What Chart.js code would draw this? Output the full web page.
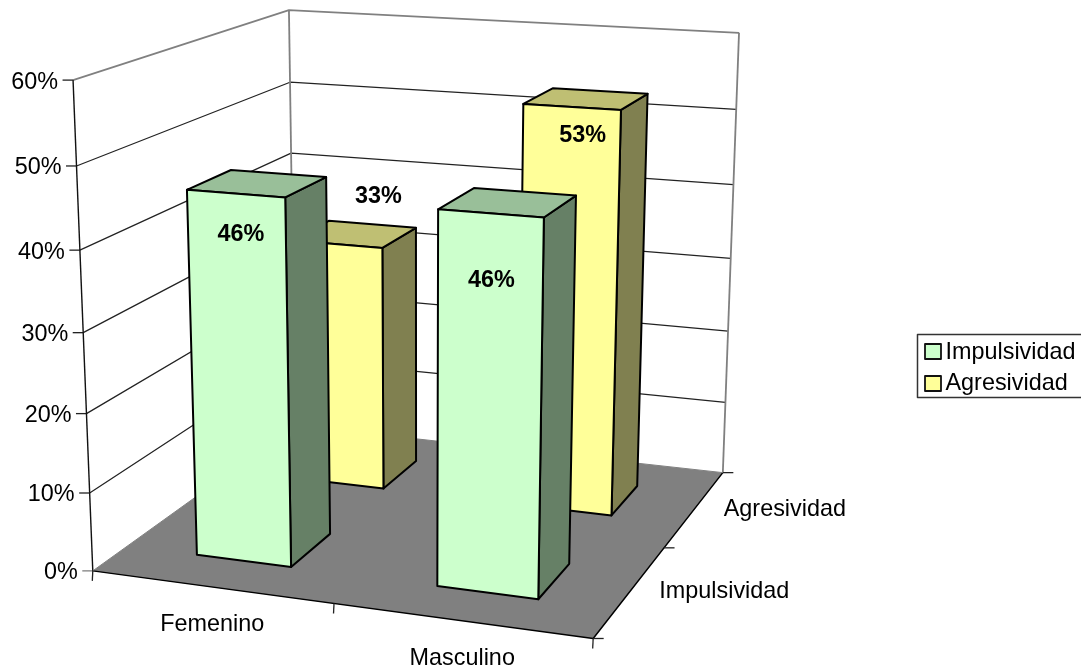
<!DOCTYPE html>
<html><head><meta charset="utf-8">
<style>html,body{margin:0;padding:0;background:#fff}canvas{display:block}</style>
<script src="https://cdn.jsdelivr.net/npm/chart.js@4"></script>
</head><body><canvas id="c" width="1081" height="668"></canvas>
<script>
// ---- data ----
const categories = ['Femenino', 'Masculino'];
const seriesNames = ['Impulsividad', 'Agresividad'];
const impulsividad = [46, 46];
const agresividad = [33, 53];
const axisMax = 60;
const axisStep = 10;

// ---- styles ----
const frontColors = ['#CCFFCC', '#FFFF99'];
const topColors = ['#99BF99', '#BFBF73'];
const sideColors = ['#668066', '#808050'];
const FONT = '"Liberation Sans", Arial, sans-serif';
// pixel nudges of value labels from the centre of each bar's top [dataset][category]
const labelNudge = [[[-16, 50], [-16, 77]], [[24, -39], [-3, 36]]];

// camera calibration: unit cube corner -> page pixel (u: categories, d: series, v: value)
const cameraAnchors = [
  [0,0,0, 93,570.5],[1,0,0, 593,639],[0,1,0, 295,426],[1,1,0, 723,472],
  [0,0,1, 73,80],[0,1,1, 289,10],[1,1,1, 739,33]
];
function solveCamera(rows) {
  const A = [], b = [];
  rows.forEach(([X,Y,Z,x,y]) => {
    A.push([X,Y,Z,1,0,0,0,0,-x*X,-x*Y,-x*Z]); b.push(x);
    A.push([0,0,0,0,X,Y,Z,1,-y*X,-y*Y,-y*Z]); b.push(y);
  });
  const n = 11, M = [];
  for (let i = 0; i < n; i++) {
    const r = [];
    for (let j = 0; j < n; j++) r.push(A.reduce((s, a) => s + a[i]*a[j], 0));
    r.push(A.reduce((s, a, k) => s + a[i]*b[k], 0));
    M.push(r);
  }
  for (let i = 0; i < n; i++) {
    let p = i;
    for (let k = i+1; k < n; k++) if (Math.abs(M[k][i]) > Math.abs(M[p][i])) p = k;
    [M[i], M[p]] = [M[p], M[i]];
    for (let k = 0; k < n; k++) if (k !== i) {
      const f = M[k][i] / M[i][i];
      for (let j = i; j <= n; j++) M[k][j] -= f * M[i][j];
    }
  }
  return M.map((r, i) => r[n] / r[i]);
}
const cam = solveCamera(cameraAnchors);
function P(u, d, v) {
  const w = cam[8]*u + cam[9]*d + cam[10]*v + 1;
  return [(cam[0]*u + cam[1]*d + cam[2]*v + cam[3]) / w,
          (cam[4]*u + cam[5]*d + cam[6]*v + cam[7]) / w];
}
function poly(ctx, pts, fill, stroke, lw) {
  ctx.beginPath();
  pts.forEach((p, i) => i ? ctx.lineTo(p[0], p[1]) : ctx.moveTo(p[0], p[1]));
  if (fill) { ctx.closePath(); ctx.fillStyle = fill; ctx.fill(); }
  if (stroke) { ctx.strokeStyle = stroke; ctx.lineWidth = lw; ctx.lineJoin = 'round'; ctx.stroke(); }
}
function text(ctx, s, x, y, align, bold) {
  ctx.font = (bold ? 'bold ' : '') + '23.4px ' + FONT;
  ctx.fillStyle = '#000'; ctx.textAlign = align; ctx.textBaseline = 'middle';
  ctx.fillText(s, x, y + 1);
}
// normalised geometry of one bar, read from the library's own element and scales
function barBox(chart, di, i) {
  const bar = chart.getDatasetMeta(di).data[i];
  const xs = chart.scales.x, ys = chart.scales.y, ds = chart.scales.depth;
  const u0 = (bar.x - bar.width/2 - xs.left) / xs.width;
  const u1 = (bar.x + bar.width/2 - xs.left) / xs.width;
  const half = bar.width / xs.width / 2;
  const dc = (ds.getPixelForValue(di) - ds.left) / ds.width;
  const v = (ys.bottom - bar.y) / ys.height;
  return {u0, u1, d0: dc - half, d1: dc + half, v};
}

class Bar3DController extends Chart.BarController {
  draw() {
    const chart = this.chart, ctx = chart.ctx, di = this.index, S = 2;
    this._cachedMeta.data.forEach((_, i) => {
      const b = barBox(chart, di, i);
      poly(ctx, [P(b.u1,b.d0,0),P(b.u1,b.d1,0),P(b.u1,b.d1,b.v),P(b.u1,b.d0,b.v)], sideColors[di], '#000', S);
      poly(ctx, [P(b.u0,b.d0,b.v),P(b.u1,b.d0,b.v),P(b.u1,b.d1,b.v),P(b.u0,b.d1,b.v)], topColors[di], '#000', S);
      poly(ctx, [P(b.u0,b.d0,0),P(b.u1,b.d0,0),P(b.u1,b.d0,b.v),P(b.u0,b.d0,b.v)], frontColors[di], '#000', S);
    });
  }
}
Bar3DController.id = 'bar3d';
Bar3DController.defaults = Chart.BarController.defaults;
Bar3DController.overrides = Chart.BarController.overrides;
Chart.register(Bar3DController);

const box3D = {
  id: 'box3D',
  beforeDatasetsDraw(chart) {
    const ctx = chart.ctx, ys = chart.scales.y, ds = chart.scales.depth, xs = chart.scales.x;
    const GRAY = '#808080', DARK = '#222';
    // floor
    poly(ctx, [P(0,0,0),P(1,0,0),P(1,1,0),P(0,1,0)], '#808080');
    poly(ctx, [P(0,0,0),P(1,0,0),P(1,1,0)], null, '#000', 1.5);
    poly(ctx, [P(1,1,0),P(0,1,0),P(0,0,0)], null, GRAY, 1);
    // gridlines and value axis
    ys.ticks.forEach(t => {
      const v = (ys.bottom - ys.getPixelForValue(t.value)) / ys.height;
      const isTop = t.value === ys.max;
      if (t.value > 0) poly(ctx, [P(0,0,v),P(0,1,v),P(1,1,v)], null, isTop ? GRAY : DARK, isTop ? 1.8 : 1.25);
      const a = P(0,0,v);
      poly(ctx, [[a[0]-10.5,a[1]],a], null, t.value === 0 ? GRAY : DARK, 1.3);
      text(ctx, t.label, a[0]-15, a[1]+1, 'right');
    });
    poly(ctx, [P(0,1,0),P(0,1,1)], null, GRAY, 1.8);
    poly(ctx, [P(1,1,0),P(1,1,1)], null, GRAY, 1.8);
    poly(ctx, [P(0,0,0),P(0,0,1)], null, '#111', 1.4);
    // category axis
    categories.forEach((c, i) => {
      const m = P((xs.getPixelForValue(i) - xs.left) / xs.width, 0, 0);
      text(ctx, c, m[0]+1, m[1]+37, 'center');
    });
    for (let i = 0; i <= categories.length; i++) {
      const a = P(i / categories.length, 0, 0);
      poly(ctx, [a, [a[0]-0.5, a[1]+10]], null, i === 1 ? DARK : '#222', 1.3);
    }
    // series (depth) axis
    seriesNames.forEach((s, i) => {
      const m = P(1, (ds.getPixelForValue(i) - ds.left) / ds.width, 0);
      text(ctx, s, m[0]+29, m[1], 'left');
    });
    for (let i = 0; i <= seriesNames.length; i++) {
      const a = P(1, i / seriesNames.length, 0);
      poly(ctx, [a, [a[0]+10.5, a[1]]], null, '#222', 1.3);
    }
  },
  afterDatasetsDraw(chart) {
    const ctx = chart.ctx;
    // value labels
    chart.data.datasets.forEach((ds, di) => ds.data.forEach((val, i) => {
      const b = barBox(chart, di, i);
      const c = P((b.u0+b.u1)/2, (b.d0+b.d1)/2, b.v);
      text(ctx, val + '%', c[0] + labelNudge[di][i][0] - 0.5, c[1] + labelNudge[di][i][1], 'center', true);
    }));
    // legend
    ctx.strokeStyle = '#333'; ctx.lineWidth = 1.5;
    ctx.strokeRect(917.5, 334.5, 170, 63);
    chart.data.datasets.forEach((ds, di) => {
      const y = 351.5 + di * 32;
      ctx.fillStyle = frontColors[di];
      ctx.fillRect(925, y-7.5, 16, 15);
      ctx.strokeStyle = '#111'; ctx.lineWidth = 1.8;
      ctx.strokeRect(925, y-7.5, 16, 15);
      text(ctx, ds.label, 945.5, y + (di ? -0.5 : 0.5), 'left');
    });
  }
};

new Chart(document.getElementById('c'), {
  type: 'bar3d',
  plugins: [box3D],
  data: {
    labels: categories,
    datasets: [
      {label: seriesNames[0], data: impulsividad, backgroundColor: frontColors[0], borderColor: '#000', grouped: false, barPercentage: 0.4, categoryPercentage: 1},
      {label: seriesNames[1], data: agresividad, backgroundColor: frontColors[1], borderColor: '#000', grouped: false, barPercentage: 0.4, categoryPercentage: 1}
    ]
  },
  options: {
    responsive: false,
    animation: false,
    devicePixelRatio: 1,
    plugins: {legend: {display: false}, title: {display: false}, tooltip: {enabled: false}},
    scales: {
      x: {type: 'category', offset: true, display: false},
      depth: {type: 'category', axis: 'x', labels: seriesNames, offset: true, display: false},
      y: {type: 'linear', min: 0, max: axisMax, display: false,
          ticks: {stepSize: axisStep, callback: v => v + '%'}}
    }
  }
});
</script></body></html>
